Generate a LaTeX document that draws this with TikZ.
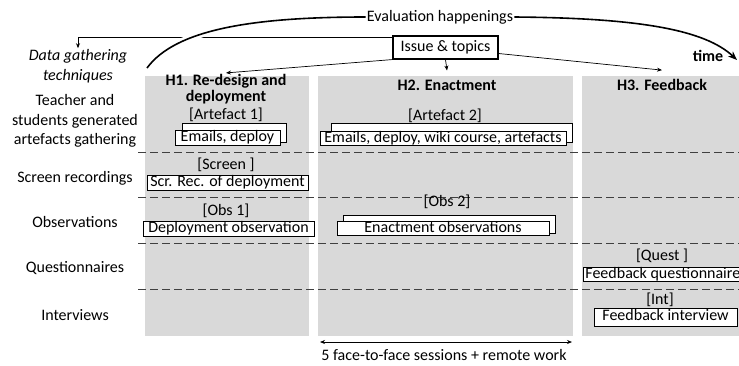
\documentclass[tikz,border=0pt]{standalone}
\usepackage{fontspec}
\setmainfont{Carlito}
\usetikzlibrary{arrows.meta,positioning,calc}

\begin{document}
\begin{tikzpicture}[x=1pt, y=-1pt, >={Stealth[length=5pt,width=4pt]}, font=\fontsize{16}{19.5}\selectfont,
	  phase/.style={fill=gray!30},
	  rowsep/.style={dash pattern=on 8pt off 4pt, black!75, line width=0.8pt},
	  head/.style={font=\fontsize{16}{16}\selectfont\bfseries, align=center, inner sep=1pt},
	  tag/.style={inner sep=1pt},
	  rowlbl/.style={align=center, inner sep=1pt},
	  srcbox/.style={draw, fill=white, line width=0.8pt, inner xsep=2pt, inner ysep=0pt, text height=11pt, text depth=3.5pt},
	  backbox/.style={draw, fill=white, line width=0.8pt},
	  link/.style={line width=0.7pt}]
	  \useasboundingbox (0,0) rectangle (739,365);
	  % phase columns and row separators
	  \fill[phase] (145,76) rectangle (309,336);
	  \fill[phase] (318,76) rectangle (573,336);
	  \fill[phase] (582,76) rectangle (745,336);
	  \foreach \y in {152,197,243,289}
	    \draw[rowsep] (138,\y) -- (739,\y);
	  % techniques
	  \node[rowlbl, font=\fontsize{16}{19.5}\selectfont\itshape] (dgt) at (78,66) {Data gathering\\techniques};
	  \node[rowlbl] (artrow) at (75,121) {Teacher and\\students generated\\artefacts gathering};
	  \node[rowlbl] (scrrow) at (75,178) {Screen recordings};
	  \node[rowlbl] (obsrow) at (75,222) {Observations};
	  \node[rowlbl] (qrow) at (75,268) {Questionnaires};
	  \node[rowlbl] (introw) at (75,315) {Interviews};
	  % phase headers
	  \node[head] (h1) at (226,89) {H1. Re-design and\\deployment};
	  \node[head] (h2) at (447,85) {H2. Enactment};
	  \node[head] (h3) at (662,85) {H3. Feedback};
	  % H1
	  \node[tag] (art1) at (226,115) {[Artefact 1]};
	  \node[backbox, minimum width=104pt, minimum height=19pt] (art1b) at (234,132.5) {};
	  \node[srcbox, minimum width=105pt] (art1f) at (227.5,138) {Emails, deploy};
	  \node[tag] (scr) at (226,165) {[Screen ]};
	  \node[srcbox, minimum width=161pt] (scrf) at (227.5,183) {Scr. Rec. of deployment};
	  \node[tag] (obs1) at (226,211) {[Obs 1]};
	  \node[srcbox, minimum width=171pt] (obs1f) at (228.5,229) {Deployment observation};
	  % H2
	  \node[tag] (art2) at (445,116) {[Artefact 2]};
	  \node[backbox, minimum width=241pt, minimum height=19pt] (art2b) at (451.5,132.5) {};
	  \node[srcbox, minimum width=246pt, inner xsep=1pt] (art2f) at (443,138.5) {Emails, deploy, wiki course, artefacts};
	  \node[tag] (obs2) at (447,202) {[Obs 2]};
	  \node[backbox, minimum width=212pt, minimum height=18pt] (obs2b) at (449,224) {};
	  \node[srcbox, minimum width=212pt] (obs2f) at (443,228.5) {Enactment observations};
	  % H3
	  \node[tag] (quest) at (662,256) {[Quest ]};
	  \node[srcbox, anchor=west] (questf) at (583,274.5) {Feedback questionnaire};
	  \node[tag] (int) at (660,300) {[Int]};
	  \node[srcbox, minimum width=143pt, minimum height=18pt] (intf) at (665.5,317) {Feedback interview};
	  % top
	  \node[inner sep=1pt] (eval) at (440,17) {Evaluation happenings};
	  \node[font=\fontsize{16}{19.5}\selectfont\bfseries, inner sep=1pt] (time) at (708,56) {time};
	  \node[draw, line width=1.1pt, minimum width=105pt, minimum height=23pt] (issue) at (445.5,47.5) {Issue \& topics};
	  \coordinate (evalL) at (147,68);
	  \coordinate (evalR) at (737,60);
	  \draw[link, ->] ([yshift=-2pt]issue.north west) -| (dgt.north);
	  \draw[link, ->] (issue.south west) -- (h1.north);
	  \draw[link, ->] (issue.south) -- ([yshift=8pt]h2.north);
	  \draw[link, ->] ([yshift=-6pt]issue.east) -- ([yshift=8pt]h3.north);
	  \draw[line width=1.6pt, preaction={draw=white, line width=7pt}] (eval.west) .. controls (250,17) and (175,30) .. (evalL);
	  \draw[line width=1.6pt, -{Stealth[length=9pt,width=7pt]}] (eval.east) .. controls (640,18) and (705,30) .. (evalR);
	  % bottom
	  \node (sessions) at (444,355) {5 face-to-face sessions + remote work};
	  \coordinate (s0) at (320,342);
	  \coordinate (s1) at (572,342);
	  \draw[link, <->] (s0) -- (s1);
	\end{tikzpicture}
\end{document}
